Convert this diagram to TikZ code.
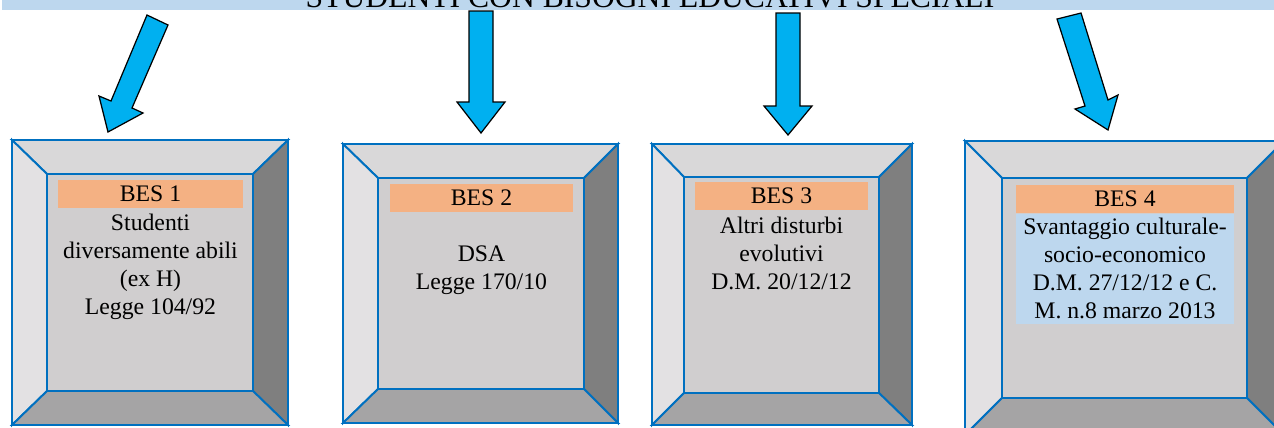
\documentclass[tikz,border=0pt]{standalone}
\usepackage{fontspec}
\setmainfont{Liberation Serif}
\usepackage{tikz}
\usetikzlibrary{calc,positioning}
\usepackage{xcolor}

\definecolor{bannerBlue}{HTML}{BDD7EE}
\definecolor{arrowBlue}{HTML}{00B0F0}
\definecolor{edgeBlue}{HTML}{0070C0}
\definecolor{faceTop}{HTML}{D9D8D9}
\definecolor{faceLeft}{HTML}{E3E1E3}
\definecolor{faceRight}{HTML}{7F7F7F}
\definecolor{faceBottom}{HTML}{A5A4A5}
\definecolor{faceIn}{HTML}{D0CECF}
\definecolor{labelOrange}{HTML}{F4B183}

\tikzset{
  bevel/.style={draw=edgeBlue, line width=1.1pt, line join=miter},
  blockarrow/.style={draw=black, fill=arrowBlue, line width=0.7pt},
  beslabel/.style={fill=labelOrange, inner sep=0pt, minimum height=0.56cm,
    font=\fontsize{13.5}{16}\selectfont},
  bestext/.style={align=center, inner sep=0pt, font=\fontsize{13.5}{16}\selectfont},
}

% #1 name, #2 outer top left, #3 outer bottom right, #4 inner top left, #5 inner bottom right
\newcommand{\besframe}[5]{%
  \coordinate (#1-oa) at #2; \coordinate (#1-ob) at #3;
  \coordinate (#1-ia) at #4; \coordinate (#1-ib) at #5;
  \filldraw[bevel, fill=faceTop] (#1-oa) -- (#1-ob |- #1-oa) -- (#1-ib |- #1-ia) -- (#1-ia) -- cycle;
  \filldraw[bevel, fill=faceLeft] (#1-oa) -- (#1-ia) -- (#1-ia |- #1-ib) -- (#1-oa |- #1-ob) -- cycle;
  \filldraw[bevel, fill=faceRight] (#1-ob |- #1-oa) -- (#1-ob) -- (#1-ib) -- (#1-ib |- #1-ia) -- cycle;
  \filldraw[bevel, fill=faceBottom] (#1-oa |- #1-ob) -- (#1-ia |- #1-ib) -- (#1-ib) -- (#1-ob) -- cycle;
  \filldraw[bevel, fill=faceIn] (#1-ia) rectangle (#1-ib);
}

\begin{document}
\begin{tikzpicture}[x=0.02cm, y=-0.02cm]
  \useasboundingbox (0,0) rectangle (1274,427);

  % banner
  \fill[bannerBlue] (2,-30) rectangle (1274,10);
  \node[anchor=base, inner sep=0pt, font=\fontsize{18}{20}\selectfont] (title) at (650,7)
    {STUDENTI CON BISOGNI EDUCATIVI SPECIALI};

  % arrows
  \filldraw[blockarrow] (147,15) -- (168,25) -- (132,108) -- (143,113) -- (108,132) -- (99,96) -- (111,101) -- cycle;
  \filldraw[blockarrow] (469,11) -- (493,11) -- (493,102) -- (505,102) -- (481,133) -- (457,102) -- (469,102) -- cycle;
  \filldraw[blockarrow] (776,13) -- (800,13) -- (800,106) -- (812,106) -- (788,135) -- (764,106) -- (776,106) -- cycle;
  \filldraw[blockarrow] (1057,19) -- (1081,13) -- (1108,100) -- (1118,95) -- (1108,130) -- (1075,109) -- (1085,106) -- cycle;

  % frames
  \besframe{bA}{(12,140)}{(288,425)}{(47,174)}{(253,391)}
  \besframe{bB}{(343,144)}{(618,423)}{(378,178)}{(584,389)}
  \besframe{bC}{(652,144)}{(912,425)}{(684,177)}{(879,393)}
  \besframe{bD}{(965,141)}{(1284,435)}{(1002,178)}{(1247,398)}

  % labels and texts
  \node[beslabel, minimum width=3.7cm] (lA) at (150.5,194) {BES 1};
  \node[bestext, below=3pt of lA] (tA) {Studenti\\diversamente abili\\(ex H)\\Legge 104/92};

  \node[beslabel, minimum width=3.66cm] (lB) at (481.5,198) {BES 2};
  \node[bestext, below=19pt of lB] (tB) {DSA\\Legge 170/10};

  \node[beslabel, minimum width=3.46cm] (lC) at (781.5,196) {BES 3};
  \node[bestext, below=3.5pt of lC] (tC) {Altri disturbi\\evolutivi\\D.M. 20/12/12};

  \node[beslabel, minimum width=4.36cm] (lD) at (1125,199) {BES 4};
  \node[bestext, fill=bannerBlue, minimum width=4.36cm, minimum height=2.2cm, below=0pt of lD] (tD)
    {Svantaggio culturale-\\socio-economico\\ D.M. 27/12/12 e C.\\M. n.8 marzo 2013};
\end{tikzpicture}
\end{document}
